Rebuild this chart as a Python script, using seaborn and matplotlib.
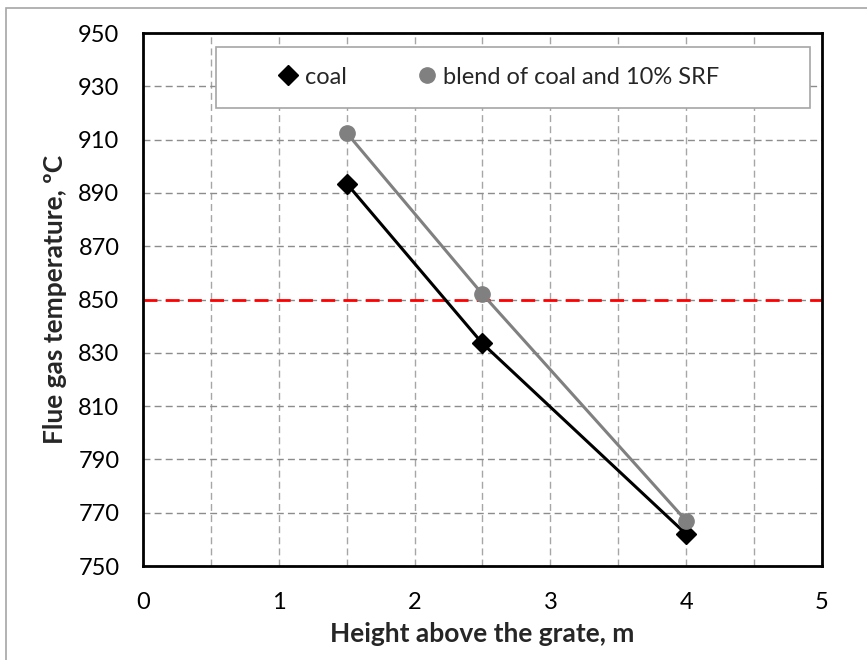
import numpy as np
import pandas as pd
import seaborn as sns
import matplotlib.pyplot as plt
from matplotlib.patches import Rectangle
from matplotlib.ticker import MultipleLocator

# Data
height = [1.5, 2.5, 4.0]
coal = [893.5, 833.5, 762.0]
blend = [912.5, 852.0, 767.0]
limit_temp = 850
series_names = ["coal", "blend of coal and 10% SRF"]
y_ticks = [750, 770, 790, 810, 830, 850, 870, 890, 910, 930, 950]

df = pd.DataFrame({
    "height": height * 2,
    "temp": coal + blend,
    "fuel": [series_names[0]] * 3 + [series_names[1]] * 3,
})

sns.set_style("white")
plt.rcParams["font.family"] = ["Lato", "DejaVu Sans"]

fig = plt.figure(figsize=(8.67, 6.60), dpi=100)
ax = fig.add_axes([0.165, 0.1424, 0.783, 0.8076])

# outer chart frame
fig.patches.append(Rectangle((0.007, -0.01), 1.2, 0.998, transform=fig.transFigure,
                             fill=False, edgecolor="#a6a6a6", linewidth=1.2))

colors = {series_names[0]: "black", series_names[1]: "#808080"}
markers = {series_names[0]: "D", series_names[1]: "o"}
sizes = {series_names[0]: 10, series_names[1]: 11}

for name in series_names:
    sub = df[df["fuel"] == name]
    sns.lineplot(data=sub, x="height", y="temp", ax=ax, color=colors[name],
                 linewidth=2.2, legend=False, zorder=3)
    ax.plot(sub["height"], sub["temp"], linestyle="none", marker=markers[name],
            markersize=sizes[name], color=colors[name], zorder=4, label=name)

ax.axhline(limit_temp, color="red", linestyle=(0, (5, 3)), linewidth=2, zorder=2)

ax.set_xlim(0, 5)
ax.set_ylim(750, 950)
ax.xaxis.set_major_locator(MultipleLocator(1))
ax.xaxis.set_minor_locator(MultipleLocator(0.5))
ax.set_yticks(y_ticks)

ax.grid(which="both", axis="x", color="#a6a6a6", linestyle=(0, (5, 3)), linewidth=1)
ax.grid(which="major", axis="y", color="#8c8c8c", linestyle=(0, (5, 3)), linewidth=1)
ax.set_axisbelow(True)

for sp in ax.spines.values():
    sp.set_color("black")
    sp.set_linewidth(2)

ax.tick_params(axis="x", which="major", direction="inout", length=10, width=2,
               labelsize=17, colors="black", pad=14)
ax.tick_params(axis="x", which="minor", length=0)
ax.tick_params(axis="y", which="major", length=6, width=2, direction="out",
               labelsize=17, colors="black", pad=11)

ax.set_xlabel("Height above the grate, m", fontsize=19, fontweight="bold", labelpad=6)
ax.set_ylabel("Flue gas temperature, \u00baC", fontsize=19, fontweight="bold", labelpad=8)

# legend box (white, covers the grid) and entries
ax.add_patch(Rectangle((0.1075, 0.859), 0.8745, 0.115, transform=ax.transAxes,
                       facecolor="white", edgecolor="#a6a6a6", linewidth=1.2, zorder=5))
leg = ax.legend(loc="center left", bbox_to_anchor=(0.2, 0.917), ncol=2,
                fontsize=17, frameon=False, handletextpad=0.3,
                columnspacing=3.0, handlelength=0.8, borderpad=0, borderaxespad=0)
leg.set_zorder(6)

fig.savefig("out.png", dpi=100)
